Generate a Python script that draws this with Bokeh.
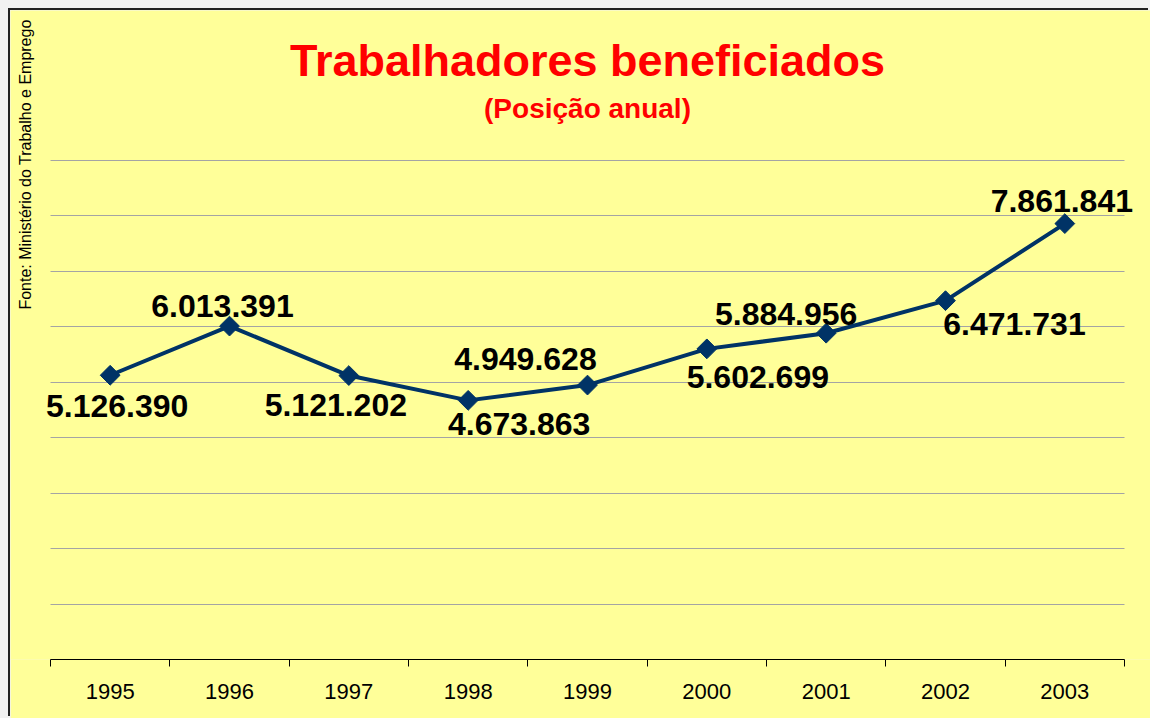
import numpy as np
from bokeh.plotting import figure
from bokeh.models import ColumnDataSource, Range1d, FixedTicker, Label
from bokeh.core.properties import value
from bokeh.embed import file_html
from bokeh.resources import INLINE

# ---- data ----
years = ["1995", "1996", "1997", "1998", "1999", "2000", "2001", "2002", "2003"]
workers = [5126390, 6013391, 5121202, 4673863, 4949628, 5602699, 5884956, 6471731, 7861841]
title_text = "Trabalhadores beneficiados"
subtitle_text = "(Posição anual)"
source_text = "Fonte: Ministério do Trabalho e Emprego"

# label placement (pixels, relative to each point)
label_dx = [7, -7, -13, 51, -62, 51, -40, 69, -3]
label_dy = [31, -20, 29, 24, -26, 28, -19, 23, -23]

FONT = "Liberation Sans"
YELLOW = "#FFFF99"
NAVY = "#003366"

n = len(years)
xs = list(range(1, n + 1))
labels = [f"{v:,}".replace(",", ".") for v in workers]

src = ColumnDataSource(dict(x=xs, y=workers, label=labels, dx=label_dx, dy=label_dy))

# ---- geometry (pixels) ----
W, H = 1140, 708            # canvas size
plot_left, plot_right = 40, 1114   # plot area inside canvas
plot_top, plot_bottom = 150, 649
unit = (plot_right - plot_left) / n
x_start = 0.5 - plot_left / unit
x_end = 0.5 + (W - plot_left) / unit
y_top = 9e6 * plot_bottom / (plot_bottom - plot_top)

p = figure(width=W, height=H, output_backend="svg", toolbar_location=None,
           x_range=Range1d(x_start, x_end), y_range=Range1d(0, y_top),
           y_axis_location=None, min_border_left=0, min_border_right=0,
           min_border_top=0, min_border_bottom=H - plot_bottom,
           background_fill_color=YELLOW, border_fill_color=YELLOW)
p.styles = {"margin-left": "10px", "margin-top": "10px",
            "box-shadow": "-2px -2px 0 0 #222222"}
p.outline_line_color = None

# grid
p.xgrid.visible = False
p.ygrid.ticker = FixedTicker(ticks=[i * 1e6 for i in range(1, 10)])
p.ygrid.grid_line_color = "#a4a4a4"
p.ygrid.grid_line_width = 1.2
p.ygrid.cross_bounds = (0.5, n + 0.5)

# x axis: labels at centres, ticks at category boundaries
ax = p.xaxis[0]
ax.bounds = (0.5, n + 0.5)
ax.ticker = FixedTicker(ticks=xs, minor_ticks=[i + 0.5 for i in range(0, n + 1)])
ax.major_label_overrides = {x: y for x, y in zip(xs, years)}
ax.major_tick_out = 0
ax.major_tick_in = 0
ax.minor_tick_out = 7
ax.minor_tick_in = 0
ax.minor_tick_line_color = "black"
ax.axis_line_color = "black"
ax.axis_line_width = 1
ax.major_label_standoff = 17
ax.major_label_text_font = FONT
ax.major_label_text_font_size = "22px"
ax.major_label_text_color = "black"

# series
p.line("x", "y", source=src, line_color=NAVY, line_width=4)
p.scatter("x", "y", source=src, marker="square", angle=np.pi / 4, size=14,
          fill_color=NAVY, line_color=NAVY)
p.text("x", "y", text="label", source=src, x_offset="dx", y_offset="dy",
       text_align="center", text_baseline="middle", text_font=value(FONT),
       text_font_style="bold", text_font_size="32px", text_color="black")

# titles
mid = (n + 1) / 2
p.add_layout(Label(x=mid, y=599, x_units="data", y_units="screen", text=title_text,
                   text_align="center", text_baseline="alphabetic", text_font=FONT,
                   text_font_style="bold", text_font_size="45px", text_color="#FF0000"))
p.add_layout(Label(x=mid, y=551, x_units="data", y_units="screen", text=subtitle_text,
                   text_align="center", text_baseline="alphabetic", text_font=FONT,
                   text_font_style="bold", text_font_size="28px", text_color="#FF0000"))
p.add_layout(Label(x=15, y=495, x_units="screen", y_units="screen", text=source_text,
                   angle=np.pi / 2, text_align="center", text_baseline="alphabetic",
                   text_font=FONT, text_font_size="16px", text_color="black"))

html = file_html(p, INLINE)
html = html.replace("</head>", "<style>body{background:#f2f2f2;}</style></head>", 1)
open("out.html", "w").write(html)
